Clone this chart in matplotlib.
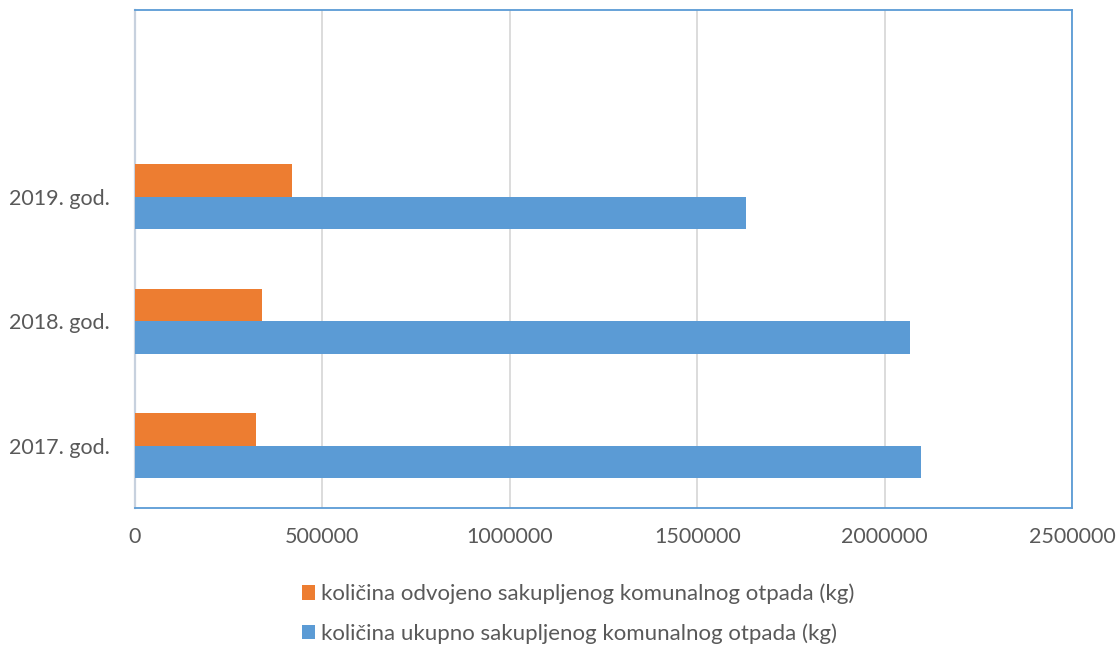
import numpy as np
import matplotlib
matplotlib.use('Agg')
import matplotlib.pyplot as plt

# podaci
godine = ['2017. god.', '2018. god.', '2019. god.', '']
odvojeno = [323000, 340000, 420000]
ukupno = [2096500, 2066500, 1631000]
x_ticks = [0, 500000, 1000000, 1500000, 2000000, 2500000]
naziv_odvojeno = 'količina odvojeno sakupljenog komunalnog otpada (kg)'
naziv_ukupno = 'količina ukupno sakupljenog komunalnog otpada (kg)'

plt.rcParams['font.family'] = ['Lato', 'DejaVu Sans']
tekst = '#595959'
narancasta = '#ED7D31'
plava = '#5B9BD5'

fig = plt.figure(figsize=(11.2, 6.49), dpi=100)
ax = fig.add_axes([0.1205, 0.2173, 0.8367, 0.7673])

y = np.arange(len(odvojeno))
h = 0.2625
b1 = ax.barh(y + h / 2, odvojeno, height=h, color=narancasta, label=naziv_odvojeno, zorder=3)
b2 = ax.barh(y - h / 2, ukupno, height=h, color=plava, label=naziv_ukupno, zorder=3)

ax.set_xlim(0, 2500000)
ax.set_ylim(-0.5, len(godine) - 0.5)
ax.set_xticks(x_ticks)
ax.set_xticklabels([str(t) for t in x_ticks])
ax.set_yticks(np.arange(len(godine)))
ax.set_yticklabels(godine)
ax.tick_params(axis='both', length=0, labelsize=15.5, labelcolor=tekst)
ax.tick_params(axis='x', pad=14)
ax.tick_params(axis='y', pad=18)
ax.grid(axis='x', color='#D9D9D9', linewidth=1.3, zorder=0)

for s in ['top', 'right', 'bottom']:
    ax.spines[s].set_color(plava)
    ax.spines[s].set_linewidth(1.3)
ax.spines['left'].set_color('#C7D1DE')
ax.spines['left'].set_linewidth(1.6)

fig.legend(handles=[b1, b2], loc='upper center', bbox_to_anchor=(0.516, 0.128),
           ncol=1, frameon=False, fontsize=16, labelcolor=tekst, borderpad=0.3,
           handlelength=0.6, handleheight=0.6, handletextpad=0.25, labelspacing=0.85)

fig.savefig('out.png', dpi=100)
